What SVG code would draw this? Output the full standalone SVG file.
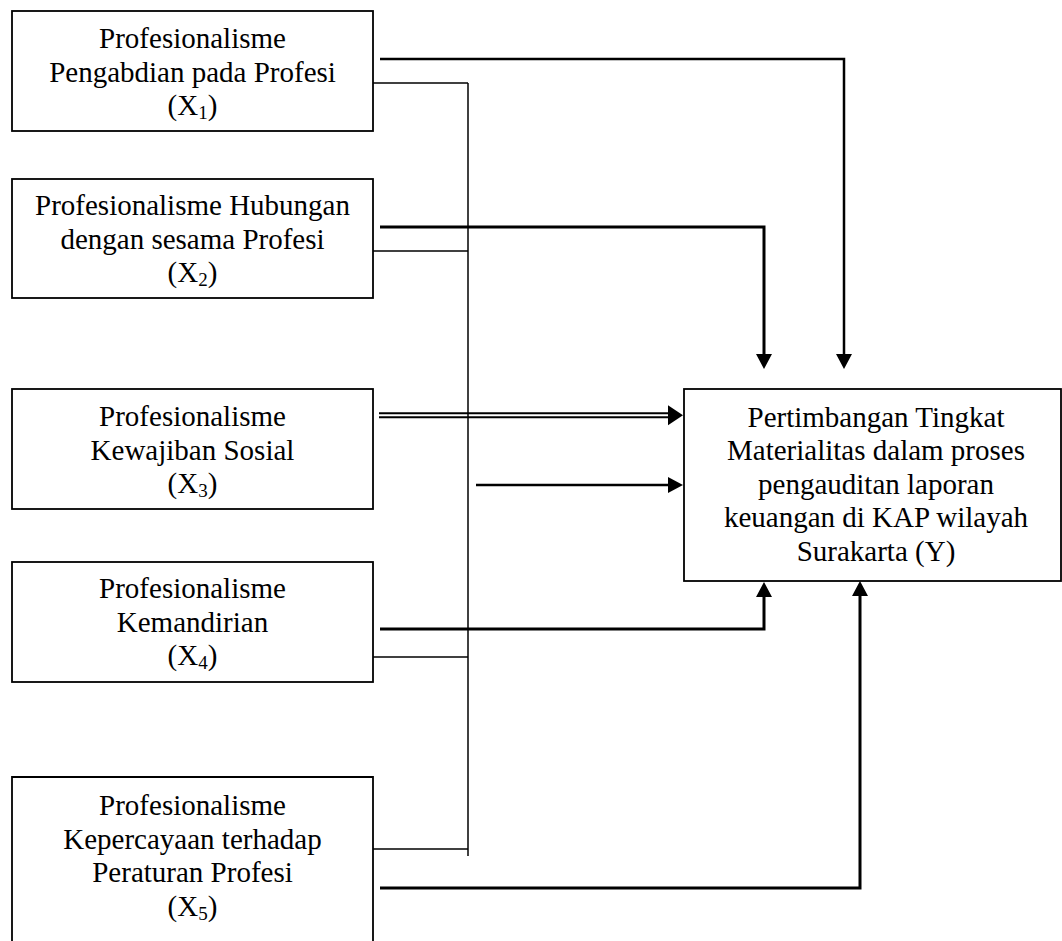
<svg xmlns="http://www.w3.org/2000/svg" width="1062" height="941" viewBox="0 0 1062 941">
<style>
  .box { fill: #fff; stroke: #000; stroke-width: 1.8; }
  .lbl { font-family: "Liberation Serif", "Times New Roman", serif; font-size: 29px; fill: #000; text-anchor: middle; }
  .sub { font-size: 19px; }
  .thin { fill: none; stroke: #000; stroke-width: 1.5; }
  .thick { fill: none; stroke: #000; stroke-width: 3; stroke-linejoin: miter; }
  .mid { fill: none; stroke: #000; stroke-width: 2.5; stroke-linejoin: miter; }
  .dbl { fill: none; stroke: #000; stroke-width: 2; }
</style>
<defs>
  <marker id="arr" markerUnits="userSpaceOnUse" markerWidth="15" markerHeight="16" refX="0" refY="8" orient="auto" overflow="visible">
    <path d="M0,0 L15,8 L0,16 z" fill="#000"/>
  </marker>
  <marker id="arrBig" markerUnits="userSpaceOnUse" markerWidth="15" markerHeight="20" refX="0" refY="10" orient="auto" overflow="visible">
    <path d="M0,0 L15,10 L0,20 z" fill="#000"/>
  </marker>
</defs>
<rect width="1062" height="941" fill="#fff"/>

<g id="connectors">
  <path class="mid" d="M380,59 H844 V354" marker-end="url(#arr)"/>
  <path class="thick" d="M380,227 H764 V354" marker-end="url(#arr)"/>
  <path class="dbl" d="M379,413.3 H669"/>
  <path class="dbl" d="M379,417.3 H669"/>
  <path d="M660,415.3 H668" stroke="none" fill="none" marker-end="url(#arrBig)"/>
  <path class="thick" d="M380,629 H764 V597" marker-end="url(#arr)"/>
  <path class="thick" d="M380,888 H860 V596" marker-end="url(#arr)"/>
  <path class="thin" d="M373,83 H468"/>
  <path class="thin" d="M373,251 H468"/>
  <path class="thin" d="M373,657 H468"/>
  <path class="thin" d="M373,849 H468"/>
  <path class="thin" d="M468,83 V856"/>
  <path class="mid" d="M476,485 H668" marker-end="url(#arr)"/>
</g>

<g id="x1">
  <rect class="box" x="12" y="11" width="361" height="120"/>
  <text class="lbl" x="192.5" y="48">Profesionalisme</text>
  <text class="lbl" x="192.5" y="82">Pengabdian pada Profesi</text>
  <text class="lbl" x="192.5" y="115">(X<tspan class="sub" dy="4">1</tspan><tspan dy="-4">)</tspan></text>
</g>

<g id="x2">
  <rect class="box" x="12" y="179" width="361" height="119"/>
  <text class="lbl" x="192.5" y="215">Profesionalisme Hubungan</text>
  <text class="lbl" x="192.5" y="249">dengan sesama Profesi</text>
  <text class="lbl" x="192.5" y="282">(X<tspan class="sub" dy="4">2</tspan><tspan dy="-4">)</tspan></text>
</g>

<g id="x3">
  <rect class="box" x="12" y="389" width="361" height="120"/>
  <text class="lbl" x="192.5" y="426">Profesionalisme</text>
  <text class="lbl" x="192.5" y="460">Kewajiban Sosial</text>
  <text class="lbl" x="192.5" y="493">(X<tspan class="sub" dy="4">3</tspan><tspan dy="-4">)</tspan></text>
</g>

<g id="x4">
  <rect class="box" x="12" y="562" width="361" height="120"/>
  <text class="lbl" x="192.5" y="598">Profesionalisme</text>
  <text class="lbl" x="192.5" y="632">Kemandirian</text>
  <text class="lbl" x="192.5" y="665">(X<tspan class="sub" dy="4">4</tspan><tspan dy="-4">)</tspan></text>
</g>

<g id="x5">
  <path class="box" d="M12,942 V777 H373 V942"/>
  <text class="lbl" x="192.5" y="815">Profesionalisme</text>
  <text class="lbl" x="192.5" y="849">Kepercayaan terhadap</text>
  <text class="lbl" x="192.5" y="882">Peraturan Profesi</text>
  <text class="lbl" x="192.5" y="916">(X<tspan class="sub" dy="4">5</tspan><tspan dy="-4">)</tspan></text>
</g>

<g id="y">
  <rect class="box" x="684" y="389" width="377" height="192"/>
  <text class="lbl" x="876" y="427">Pertimbangan Tingkat</text>
  <text class="lbl" x="876" y="460">Materialitas dalam proses</text>
  <text class="lbl" x="876" y="494">pengauditan laporan</text>
  <text class="lbl" x="876" y="527">keuangan di KAP wilayah</text>
  <text class="lbl" x="876" y="561">Surakarta (Y)</text>
</g>
</svg>
